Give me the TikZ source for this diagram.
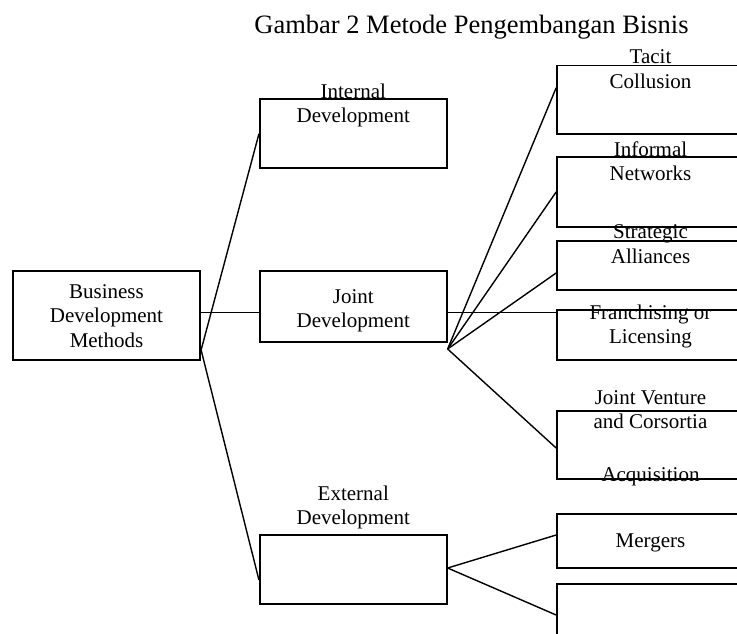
\documentclass[tikz,border=0pt]{standalone}
\usepackage{fontspec}
\setmainfont{Liberation Serif}

\begin{document}
\begin{tikzpicture}[x = 1pt, y = -1pt,
    box/.style = {draw, rectangle, line width = 1.7pt, inner sep = 0pt, minimum width = 187pt},
    txt/.style = {align = center, inner sep = 0pt, font = \fontsize{21}{24.5}\selectfont},
    link/.style = {line width = 1.4pt}]
  \useasboundingbox (0,0) rectangle (737,633);
  \clip (0,0) rectangle (737,633);

  \node [inner sep = 0pt, font = \fontsize{26.5}{30}\selectfont] (title) at (471.5,27) {Gambar 2 Metode Pengembangan Bisnis};

  \node [box, minimum height = 89pt, minimum width = 187.5pt] (methods) at (106.5,315.5) {};
  \node [box, minimum height = 69pt] (internal) at (353.3,133.8) {};
  \node [box, minimum height = 71pt] (joint) at (353.3,306.5) {};
  \node [box, minimum height = 69pt] (external) at (353.3,569.5) {};

  \node [box, minimum height = 68.5pt] (tacit) at (650.5,99.8) {};
  \node [box, minimum height = 70pt] (informal) at (650.5,192) {};
  \node [box, minimum height = 49pt] (strategic) at (650.5,265.5) {};
  \node [box, minimum height = 50pt] (franchise) at (650.5,335) {};
  \node [box, minimum height = 68.5pt] (venture) at (650.5,445) {};
  \node [box, minimum height = 54pt] (mergers) at (650.5,541) {};
  \node [box, minimum height = 70pt] (acquisition) at (650.5,619) {};

  \node [txt] (methods-txt) at (106.5,316) {Business\\Development\\Methods};
  \node [txt] (internal-txt) at (353.3,105.5) {Internal\\Development};
  \node [txt] (joint-txt) at (353.3,311) {Joint\\Development};
  \node [txt] (external-txt) at (353.3,507.5) {External\\Development};
  \node [txt] (tacit-txt) at (650.5,69) {Tacit\\Collusion};
  \node [txt] (informal-txt) at (650.5,161) {Informal\\Networks};
  \node [txt] (strategic-txt) at (650.5,244) {Strategic\\Alliances};
  \node [txt] (franchise-txt) at (650.5,326.5) {Franchising or\\Licensing};
  \node [txt] (venture-txt) at (650.5,409.5) {Joint Venture\\and Corsortia};
  \node [txt] (acquisition-txt) at (650.5,476.5) {Acquisition};
  \node [txt] (mergers-txt) at (650.5,543) {Mergers};

  \coordinate (midrow) at (0,312.5);
  \coordinate (methodsfan) at (methods.east |- 0,350);
  \coordinate (jointfan) at (joint.east |- 0,349);
  \coordinate (externalfan) at (external.east |- 0,568);

  \draw [link] (methods.east |- midrow) -- (joint.west |- midrow);
  \draw [link] (joint.east |- midrow) -- (franchise.west |- midrow);
  \draw [link] (methodsfan) -- (internal.west);
  \draw [link] (methodsfan) -- ([yshift = -10.5pt]external.west);
  \draw [link] (jointfan) -- ([yshift = 12pt]tacit.west);
  \draw [link] (jointfan) -- (informal.west);
  \draw [link] (jointfan) -- ([yshift = -7.5pt]strategic.west);
  \draw [link] (jointfan) -- ([yshift = -3pt]venture.west);
  \draw [link] (externalfan) -- ([yshift = 6pt]mergers.west);
  \draw [link] (externalfan) -- ([yshift = 4pt]acquisition.west);
\end{tikzpicture}
\end{document}
